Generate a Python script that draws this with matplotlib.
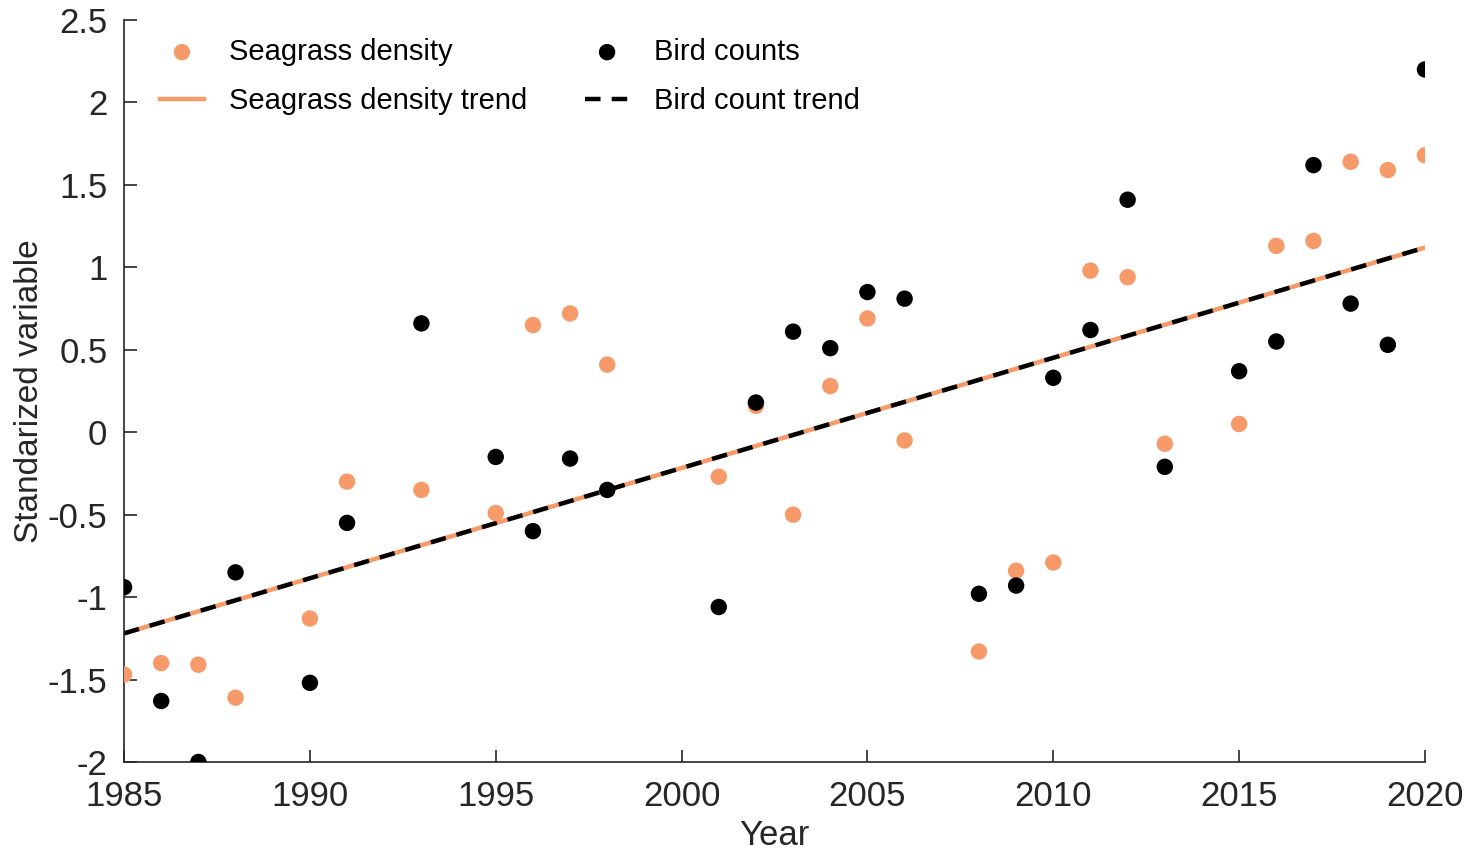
import matplotlib
matplotlib.use("Agg")
import matplotlib.pyplot as plt
import numpy as np

plt.rcParams['font.family'] = ['Liberation Sans', 'DejaVu Sans']

# --- data ---
sg_years = [1985, 1986, 1987, 1988, 1990, 1991, 1993, 1995, 1996, 1997, 1998,
            2001, 2002, 2003, 2004, 2005, 2006, 2008, 2009, 2010, 2011, 2012,
            2013, 2015, 2016, 2017, 2018, 2019, 2020]
sg_vals = [-1.47, -1.40, -1.41, -1.61, -1.13, -0.30, -0.35, -0.49, 0.65, 0.72, 0.41,
           -0.27, 0.16, -0.50, 0.28, 0.69, -0.05, -1.33, -0.84, -0.79, 0.98, 0.94,
           -0.07, 0.05, 1.13, 1.16, 1.64, 1.59, 1.68]

bird_years = [1985, 1986, 1987, 1988, 1990, 1991, 1993, 1995, 1996, 1997, 1998,
              2001, 2002, 2003, 2004, 2005, 2006, 2008, 2009, 2010, 2011, 2012,
              2013, 2015, 2016, 2017, 2018, 2019, 2020]
bird_vals = [-0.94, -1.63, -2.00, -0.85, -1.52, -0.55, 0.66, -0.15, -0.60, -0.16, -0.35,
             -1.06, 0.18, 0.61, 0.51, 0.85, 0.81, -0.98, -0.93, 0.33, 0.62, 1.41,
             -0.21, 0.37, 0.55, 1.62, 0.78, 0.53, 2.20]

trend_years = [1985, 2020]
sg_trend = [-1.22, 1.12]
bird_trend = [-1.22, 1.12]

xticks = [1985, 1990, 1995, 2000, 2005, 2010, 2015, 2020]
yticks = [-2, -1.5, -1, -0.5, 0, 0.5, 1, 1.5, 2, 2.5]
ytick_labels = ['-2', '-1.5', '-1', '-0.5', '0', '0.5', '1', '1.5', '2', '2.5']

orange = '#f79a6a'
dark = '#262626'

fig = plt.figure(figsize=(14.68, 8.51), dpi=100)
ax = fig.add_axes([0.0845, 0.1046, 0.8862, 0.8719])

ax.scatter(sg_years, sg_vals, s=140, color=orange, edgecolors='none', zorder=3,
           label='Seagrass density')
ax.plot(trend_years, sg_trend, color=orange, lw=3.2, zorder=2,
        label='Seagrass density trend')
ax.scatter(bird_years, bird_vals, s=140, color='black', edgecolors='none', zorder=4,
           label='Bird counts')
ax.plot(trend_years, bird_trend, color='black', lw=3.2, dashes=(3.5, 2.5), zorder=2,
        label='Bird count trend')

ax.set_xlim(1985, 2020)
ax.set_ylim(-2, 2.5)
ax.set_xticks(xticks)
ax.set_xticklabels([str(x) for x in xticks])
ax.set_yticks(yticks)
ax.set_yticklabels(ytick_labels)

for s in ['top', 'right']:
    ax.spines[s].set_visible(False)
for s in ['left', 'bottom']:
    ax.spines[s].set_color(dark)
    ax.spines[s].set_linewidth(1.2)

ax.tick_params(direction='in', length=9, width=1.2, colors=dark, labelsize=25)
ax.tick_params(axis='x', pad=13)
ax.tick_params(axis='y', pad=12)
ax.set_xlabel('Year', fontsize=25, color=dark, labelpad=4)
ax.set_ylabel('Standarized variable', fontsize=24, color=dark, labelpad=2)

handles, labels = ax.get_legend_handles_labels()
order = [labels.index(l) for l in ['Seagrass density', 'Seagrass density trend',
                                   'Bird counts', 'Bird count trend']]
ax.legend([handles[i] for i in order], [labels[i] for i in order],
          ncol=2, frameon=False, fontsize=21, loc='upper left',
          bbox_to_anchor=(0.0277, 0.976), borderaxespad=0, borderpad=0,
          columnspacing=2.0, handlelength=1.5, handletextpad=0.85,
          labelspacing=0.72)

fig.savefig('out.png', dpi=100, facecolor='white')
